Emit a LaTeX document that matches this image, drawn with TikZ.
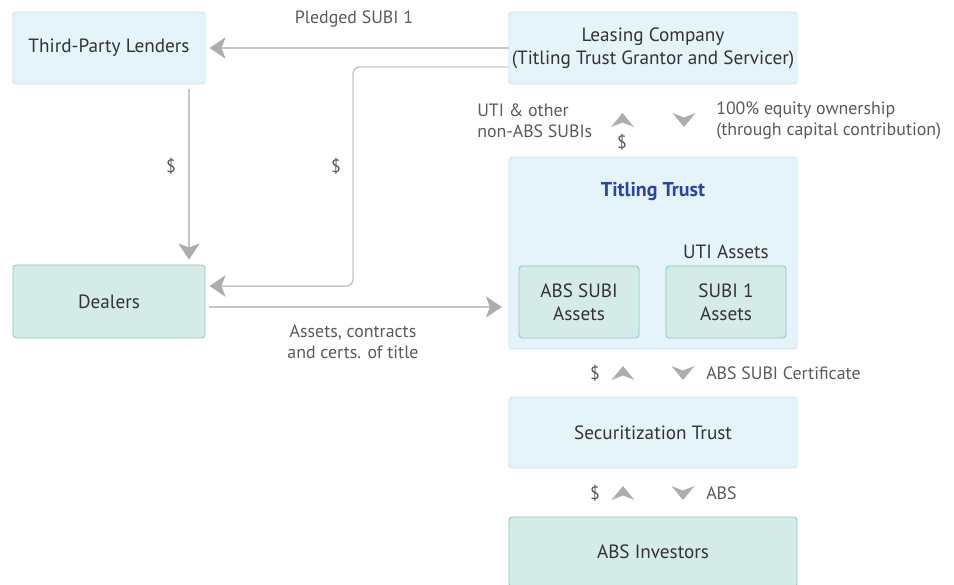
\documentclass[tikz,border=0pt]{standalone}
\usepackage{fontspec}
\setmainfont{PT Sans}
\usetikzlibrary{arrows.meta}

\definecolor{lightbluefill}{HTML}{E5F3FA}
\definecolor{lightblueline}{HTML}{C7E5F3}
\definecolor{tealfill}{HTML}{D4EBE8}
\definecolor{tealline}{HTML}{8EC9C1}
\definecolor{connline}{HTML}{C6C6C6}
\definecolor{headcol}{HTML}{ADADAD}
\definecolor{boxtext}{HTML}{333333}
\definecolor{labeltext}{HTML}{5A5A5A}
\definecolor{trustblue}{HTML}{2C45A3}

\tikzset{
  boxfont/.style={font=\fontsize{14.4}{17.25}\selectfont},
  bluebox/.style={draw=lightblueline, fill=lightbluefill, rounded corners=2.5pt,
    line width=0.7pt, text=boxtext, boxfont, align=center, inner sep=0pt},
  tealbox/.style={draw=tealline, fill=tealfill, rounded corners=2.5pt,
    line width=0.7pt, text=boxtext, boxfont, align=center, inner sep=0pt},
  lbl/.style={text=labeltext, font=\fontsize{13.4}{15.75}\selectfont, inner sep=0pt},
  conn/.style={draw=connline, line width=1.1pt,
    -{Stealth[length=12pt, width=16pt, inset=3pt, fill=headcol, color=headcol]}},
  uphead/.pic={\fill[headcol] (0,-7) -- (11.5,7) -- (0,2.5) -- (-11.5,7) -- cycle;},
  downhead/.pic={\fill[headcol] (0,7) -- (11.5,-7) -- (0,-2.5) -- (-11.5,-7) -- cycle;},
}

\begin{document}
\begin{tikzpicture}[x=0.75pt, y=-0.75pt]
\clip (0,0) rectangle (954,585);
\useasboundingbox (0,0) rectangle (954,585);

% boxes
\node[bluebox, minimum width=144pt, minimum height=54pt] (tpl) at (109,48) {Third-Party Lenders};
\node[bluebox, minimum width=216pt, minimum height=54pt] (lease) at (653,48)
  {Leasing Company\\(Titling Trust Grantor and Servicer)};
\node[tealbox, minimum width=144pt, minimum height=54.75pt] (dealers) at (109,301.5) {Dealers};
\node[bluebox, minimum width=216pt, minimum height=144pt] (titling) at (653,253) {};
\node[text=trustblue, font=\fontsize{15}{18}\selectfont\bfseries, inner sep=0pt] (ttitle) at (653,192) {Titling Trust};
\node[tealbox, minimum width=90pt, minimum height=54pt] (abssubi) at (579,302) {ABS SUBI\\Assets};
\node[tealbox, minimum width=90pt, minimum height=54pt] (subione) at (726,302) {SUBI 1\\Assets};
\node[text=boxtext, boxfont, inner sep=0pt] (uti) at (726,252) {UTI Assets};
\node[bluebox, minimum width=216pt, minimum height=53.25pt] (sec) at (653,432.5) {Securitization Trust};
\node[tealbox, minimum width=216pt, minimum height=52.5pt] (inv) at (653,552) {ABS Investors};

% connectors
\draw[conn, shorten >=3pt] (lease.west) -- (tpl.east);
\node[lbl] (pledged) at (354,19) {Pledged SUBI 1};

\coordinate (fromlease) at ([yshift=-14.25pt]lease.west);
\coordinate (todealers) at ([yshift=11.6pt]dealers.east);
\coordinate (bendx) at (353,0);
\draw[conn, rounded corners=5pt, shorten >=3pt]
  (fromlease) -- (fromlease -| bendx) -- (bendx |- todealers) -- (todealers);
\node[lbl] (paytodealers) at (336,166) {\$};

\coordinate (lendx) at (189,0);
\draw[conn, shorten <=3.75pt, shorten >=3.75pt] (tpl.south -| lendx) -- (dealers.north -| lendx);
\node[lbl] (loan) at (171,166) {\$};

\coordinate (fromdealers) at ([yshift=-4.1pt]dealers.east);
\draw[conn, shorten <=3pt, shorten >=5pt] (fromdealers) -- (fromdealers -| titling.west);
\node[lbl, align=center] (assets) at (353,342) {Assets, contracts\\and certs. of title};

% flows between leasing company and titling trust
\pic at (622.5,120) {uphead};
\pic at (684,120) {downhead};
\node[lbl] (utidollar) at (622,142) {\$};
\node[lbl, align=left, anchor=west] (utiother) at (477,120.5) {UTI \& other\\non-ABS SUBIs};
\node[lbl, align=left, anchor=west] (equity) at (716,120.5) {100\% equity ownership\\(through capital contribution)};

% flows between titling trust and securitization trust
\pic at (623,373) {uphead};
\pic at (683,373) {downhead};
\node[lbl] (certdollar) at (595,373) {\$};
\node[lbl, anchor=west] (cert) at (706,373.5) {ABS SUBI Certificate};

% flows between securitization trust and investors
\pic at (623,493) {uphead};
\pic at (683,493) {downhead};
\node[lbl] (absdollar) at (595,493) {\$};
\node[lbl, anchor=west] (abs) at (706,493.5) {ABS};
\end{tikzpicture}
\end{document}
